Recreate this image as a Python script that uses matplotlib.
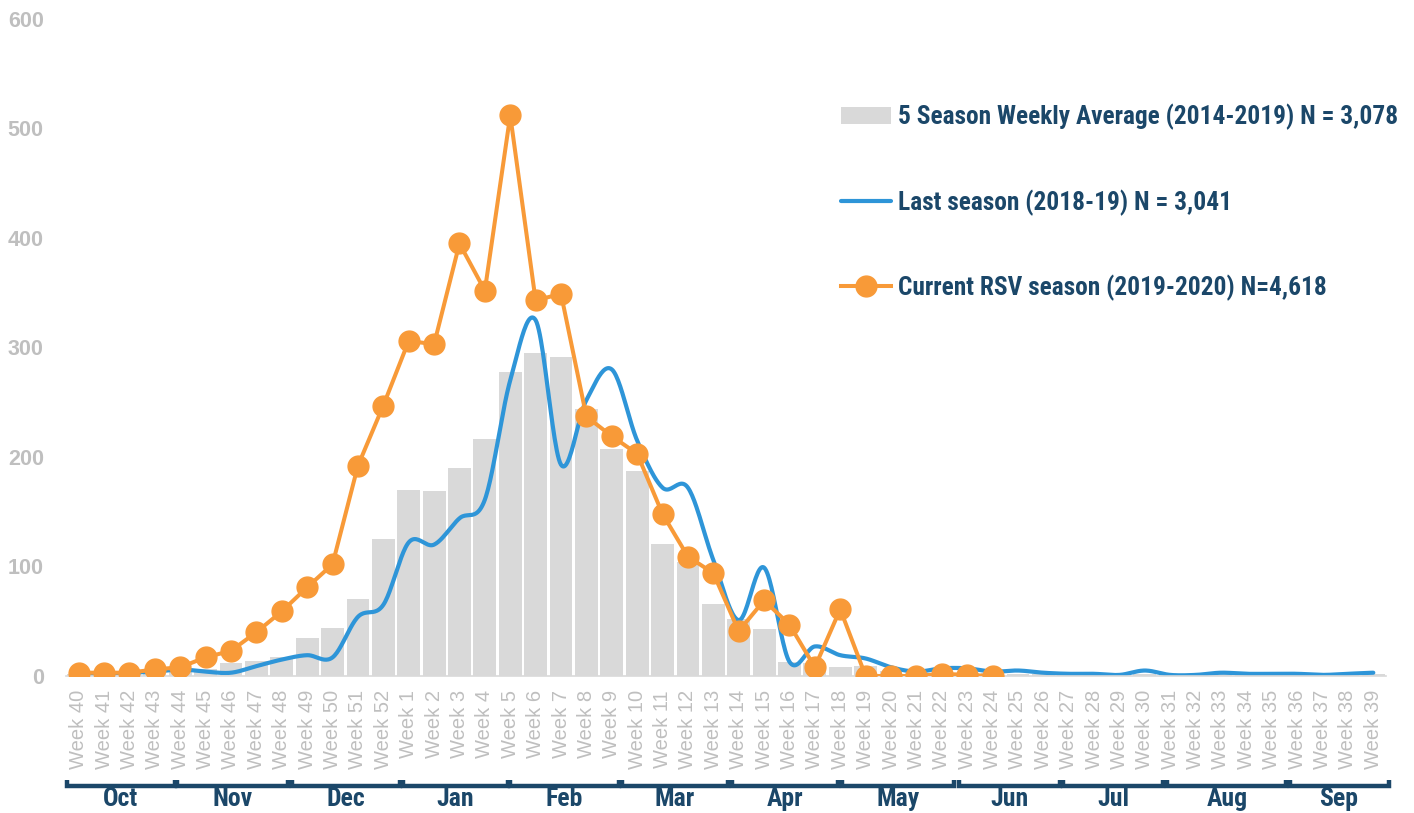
import numpy as np
import matplotlib
matplotlib.use("Agg")
import matplotlib.pyplot as plt
from matplotlib import font_manager as fm
from matplotlib.transforms import blended_transform_factory

# ---------------- data ----------------
weeks = [f"Week {w}" for w in list(range(40, 53)) + list(range(1, 40))]

avg_5season = [2, 2, 3, 3, 4, 6, 12, 14, 17, 35, 44, 70, 125,
               170, 169, 190, 216, 278, 295, 291, 244, 207, 187, 121, 104, 66,
               52, 43, 13, 12, 8, 9, 5, 3, 3, 3, 3, 2, 2, 2, 2, 2, 2, 2,
               2, 2, 2, 2, 2, 2, 2, 2]

last_season = [2, 2, 3, 4, 6, 4, 3, 9, 15, 19, 17, 54, 65,
               122, 120, 144, 161, 270, 325, 193, 252, 280, 215, 172, 172, 106,
               51, 99, 13, 27, 19, 16, 8, 4, 7, 7, 4, 5, 3, 2, 2, 1,
               5, 1, 1, 3, 2, 2, 2, 1, 2, 3]

current_season = [3, 3, 3, 6, 8, 17, 23, 40, 59, 81, 102, 192, 247,
                  306, 303, 395, 352, 512, 343, 349, 237, 219, 203, 148, 109, 94,
                  41, 69, 47, 8, 61, 0, 0, 0, 2, 1, 0]

months = ["Oct", "Nov", "Dec", "Jan", "Feb", "Mar", "Apr", "May", "Jun", "Jul", "Aug", "Sep"]
month_start = [-0.47, 3.86, 8.39, 12.76, 16.98, 21.39, 25.72, 30.05, 34.66, 38.76, 42.89, 47.70]
month_end = [3.78, 8.23, 12.64, 16.90, 21.27, 25.56, 29.93, 34.50, 38.64, 42.73, 47.58, 51.60]

legend_labels = ["5 Season Weekly Average (2014-2019) N = 3,078",
                 "Last season (2018-19) N = 3,041",
                 "Current RSV season (2019-2020) N=4,618"]

yticks = [0, 100, 200, 300, 400, 500, 600]

# ---------------- style ----------------
GRAY_BAR = "#D9D9D9"
BLUE = "#2E95D8"
ORANGE = "#F89A38"
NAVY = "#1B4769"
TICK_GRAY = "#BFBFBF"

avail = {f.name for f in fm.fontManager.ttflist}
BASE = "Liberation Sans" if "Liberation Sans" in avail else "DejaVu Sans"


def pick_narrow_bold():
    prefs = ["Archivo Narrow", "Roboto Condensed", "PT Sans Narrow", "Fira Sans Condensed",
             "Barlow Semi Condensed", "Open Sans Condensed", "IBM Plex Sans Condensed"]
    for name in prefs:
        for f in fm.fontManager.ttflist:
            if f.name == name and f.style == "normal" and f.weight == 700 and "[" not in f.fname:
                return f.fname
    return None


NARROW_FILE = pick_narrow_bold()


def narrow_props(size):
    if NARROW_FILE:
        return fm.FontProperties(fname=NARROW_FILE, size=size)
    return fm.FontProperties(family="DejaVu Sans", weight="bold", stretch="condensed", size=size)


def catmull_rom(y, n=24):
    y = np.asarray(y, dtype=float)
    p = np.concatenate([[y[0]], y, [y[-1]]])
    xs, ys = [], []
    for i in range(len(y) - 1):
        p0, p1, p2, p3 = p[i], p[i + 1], p[i + 2], p[i + 3]
        t = np.linspace(0, 1, n, endpoint=False)
        yy = 0.5 * ((2 * p1) + (-p0 + p2) * t + (2 * p0 - 5 * p1 + 4 * p2 - p3) * t ** 2
                    + (-p0 + 3 * p1 - 3 * p2 + p3) * t ** 3)
        xs.append(i + t)
        ys.append(yy)
    xs.append([len(y) - 1])
    ys.append([y[-1]])
    return np.concatenate(xs), np.concatenate(ys)


W, H = 1414, 813
fig = plt.figure(figsize=(W / 100, H / 100), dpi=100)
ax = fig.add_axes([66 / W, 1 - 676 / H, (1386 - 66) / W, (676 - 19) / H])

x = np.arange(len(weeks))
bars = ax.bar(x, avg_5season, width=0.9, color=GRAY_BAR, zorder=1)
sx, sy = catmull_rom(last_season)
blue_line, = ax.plot(sx, sy, color=BLUE, lw=3.0, zorder=2, solid_capstyle="round")
orange_line, = ax.plot(x[:len(current_season)], current_season, color=ORANGE, lw=2.9,
                       marker="o", ms=15, zorder=3)

ax.set_xlim(-0.5, len(weeks) - 0.5)
ax.set_ylim(0, 600)
ax.set_yticks(yticks)
ax.set_yticklabels([str(v) for v in yticks], fontsize=15.5, color=TICK_GRAY,
                   fontweight="bold", family=BASE)
ax.set_xticks(x)
ax.set_xticklabels(weeks, rotation=90, fontsize=14.5, color=TICK_GRAY, family=BASE)
ax.tick_params(axis="both", length=0)
ax.tick_params(axis="y", pad=16)
ax.tick_params(axis="x", pad=10)
for s in ["top", "right", "left"]:
    ax.spines[s].set_visible(False)
ax.spines["bottom"].set_color(GRAY_BAR)
ax.spines["bottom"].set_linewidth(1.2)

# month brackets
tr = blended_transform_factory(ax.transData, ax.transAxes)
ax_h = 676 - 19
yb = -(786 - 676) / ax_h
yt = -(780 - 676) / ax_h
ytxt = -(799 - 676) / ax_h
for m, a, b in zip(months, month_start, month_end):
    ax.plot([a, a, b, b], [yt, yb, yb, yt], color=NAVY, lw=3.2, transform=tr,
            clip_on=False, solid_joinstyle="miter", solid_capstyle="butt")
    ax.text((a + b) / 2, ytxt, m, transform=tr, ha="center", va="center",
            fontproperties=narrow_props(18.5), color=NAVY)

# legend: size the font so the first label spans ~500 px as in the reference
renderer = fig.canvas.get_renderer()
probe = fig.text(0, 0, legend_labels[0], fontproperties=narrow_props(20))
wpx = probe.get_window_extent(renderer).width
probe.remove()
leg_fs = 20 * 500.0 / wpx
leg_fs = min(leg_fs, 21)


def make_legend(spacing, top):
    lg = ax.legend([bars, blue_line, orange_line], legend_labels,
                   loc="upper left", bbox_to_anchor=(841 / W, 1 - top / H),
                   bbox_transform=fig.transFigure, frameon=False,
                   prop=narrow_props(leg_fs),
                   handlelength=50 / (leg_fs * 100 / 72), handletextpad=7 / (leg_fs * 100 / 72),
                   labelspacing=spacing, borderpad=0, borderaxespad=0, numpoints=1)
    for t in lg.get_texts():
        t.set_color(NAVY)
    return lg


spacing, top = 2.4, 104
leg = make_legend(spacing, top)
for _ in range(3):
    fig.canvas.draw()
    ys = [H - t.get_window_extent(renderer).y0 - t.get_window_extent(renderer).height / 2
          for t in leg.get_texts()]
    pitch = (ys[2] - ys[0]) / 2
    fs_px = leg_fs * 100 / 72
    spacing = spacing + (85.5 - pitch) / fs_px
    top = top + (117 - ys[0])
    leg.remove()
    leg = make_legend(spacing, top)

fig.savefig("out.png", dpi=100)
